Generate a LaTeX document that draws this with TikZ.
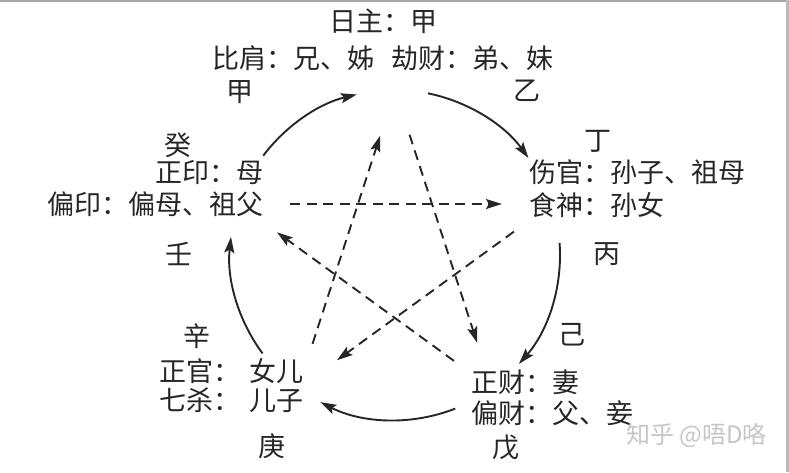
\documentclass[tikz,border=0pt]{standalone}
\usepackage{fontspec}
\newfontfamily\cjk{Noto Sans CJK SC}
\usetikzlibrary{arrows.meta,calc}

\begin{document}
\begin{tikzpicture}[
    x=1pt, y=1pt,
    txt/.style={inner sep=0pt, text height=0.83em, text depth=0.07em, font=\cjk\fontsize{27}{32}\selectfont, text=black!85},
    arrow/.style={-{Stealth[length=16pt,width=10pt,inset=3pt]}, line width=1.9pt, draw=black!85},
    dasharrow/.style={arrow, dash pattern=on 10pt off 6.5pt, shorten <=47pt, shorten >=48pt}
]
\useasboundingbox (0,0) rectangle (789,472);
\fill[gray!70] (0,470) rectangle (789,472);
\fill[gray!55] (786,0) rectangle (789,472);

% ten gods and relatives
\node[txt] (zhu) at (383,444) {日主：甲};
\node[txt] (bijie) at (383,407) {比肩：兄、姊\hspace{0.6em}劫财：弟、妹};
\node[txt, anchor=west] (shang) at (529,293) {伤官：孙子、祖母};
\node[txt, anchor=west] (shi) at (529,260) {食神：孙女};
\node[txt, anchor=east] (zyin) at (264,293) {正印：母};
\node[txt, anchor=east] (pyin) at (264,261) {偏印：偏母、祖父};
\node[txt, anchor=west] (zguan) at (159,94) {正官：\hspace{0.35em}女儿};
\node[txt, anchor=west] (qsha) at (159,65) {七杀：\hspace{0.35em}儿子};
\node[txt, anchor=west] (zcai) at (471,83) {正财：妻};
\node[txt, anchor=west] (pcai) at (471,52) {偏财：父、妾};

% heavenly stems
\foreach \n/\s/\x/\y in {jia/甲/240/374, yi/乙/527/375, ding/丁/598/325, bing/丙/607/212,
    ji/己/572/131, wu/戊/506/18, geng/庚/272/19, xin/辛/197/129, ren/壬/179/211, gui/癸/178/320}
  \node[txt] (\n) at (\x,\y) {\s};

% generating cycle
\coordinate (ctr) at (395,217);
\foreach \a/\b in {143/103.4, 78.5/36, 4.2/-41.3, -68.6/-116.9, -143.4/-186.3}
  \draw[arrow] ($(ctr)+(\a:165)$) arc[start angle=\a, end angle=\b, radius=165pt];

% controlling cycle
\foreach \n/\a in {vt/90, vr/18, vbr/-54, vbl/-126, vl/162}
  \coordinate (\n) at ($(ctr)+(\a:165)$);
\draw[dasharrow, shorten <=52pt, shorten >=50pt] (vl) -- (vr);
\draw[dasharrow] (vbl) -- (vt);
\draw[dasharrow] (vt) -- (vbr);
\draw[dasharrow] (vr) -- (vbl);
\draw[dasharrow] (vbr) -- (vl);

\node[txt, anchor=west, font=\cjk\fontsize{24}{28}\selectfont, text=gray!45] (wm) at (626,32) {知乎 @唔D咯};

\end{tikzpicture}
\end{document}
